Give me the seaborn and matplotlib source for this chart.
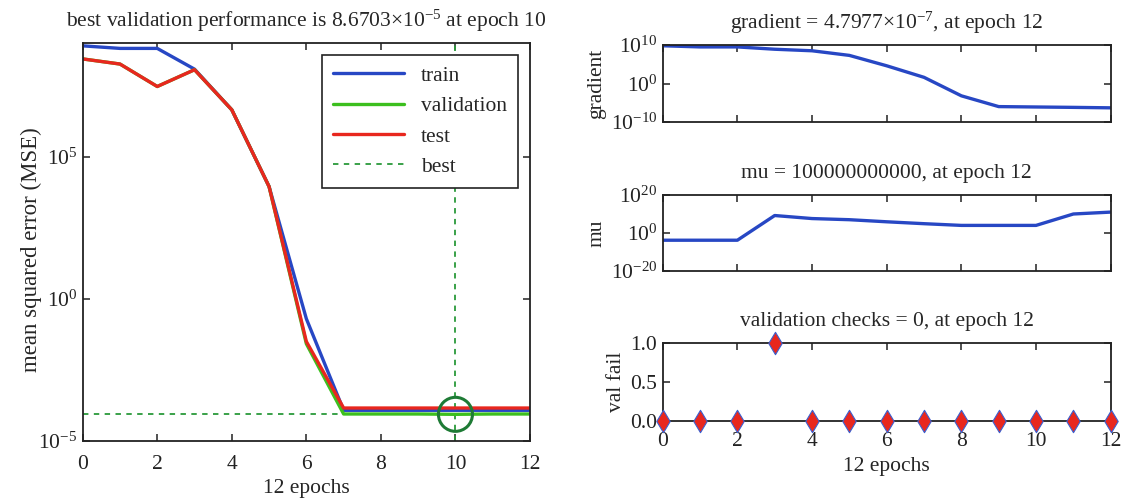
import numpy as np
import pandas as pd
import matplotlib
matplotlib.use("Agg")
import matplotlib.pyplot as plt
import seaborn as sns
from matplotlib.lines import Line2D

# ---------------- data ----------------
epochs = list(range(13))
train_log = [8.90, 8.81, 8.81, 8.08, 6.65, 3.95, -0.70, -3.92, -3.92, -3.92, -3.92, -3.92, -3.92]
val_log = [8.44, 8.26, 7.47, 8.06, 6.65, 3.95, -1.58, -4.05, -4.05, -4.05, -4.062, -4.05, -4.05]
test_log = [8.44, 8.26, 7.47, 8.06, 6.65, 3.95, -1.50, -3.84, -3.84, -3.84, -3.84, -3.84, -3.84]
best_epoch = 10
best_perf = 8.6703e-5

grad_log = [9.8, 9.5, 9.5, 8.9, 8.5, 7.3, 4.6, 1.6, -3.2, -6.0, -6.1, -6.2, -6.32]
mu_log = [-3.8, -3.8, -3.8, 9.2, 7.6, 7.0, 5.9, 4.9, 4.0, 4.0, 4.0, 10.0, 11.0]
val_fail = [0, 0, 0, 1, 0, 0, 0, 0, 0, 0, 0, 0, 0]

title_perf = r"best validation performance is 8.6703$\times$10$^{-5}$ at epoch 10"
title_grad = r"gradient = 4.7977$\times$10$^{-7}$, at epoch 12"
title_mu = "mu = 100000000000, at epoch 12"
title_val = "validation checks = 0, at epoch 12"

# ---------------- style ----------------
sns.set_theme(style="ticks")
plt.rcParams["font.family"] = ["Liberation Serif", "DejaVu Serif"]
plt.rcParams["mathtext.fontset"] = "custom"
plt.rcParams["mathtext.rm"] = "Liberation Serif"
plt.rcParams["mathtext.it"] = "Liberation Serif:italic"
plt.rcParams["axes.unicode_minus"] = True

FS = 15.5
BLUE = "#2747c4"
RED = "#e8271e"
GREEN = "#3cbf1e"
DGREEN = "#2a9a3a"
CGREEN = "#1e7b35"

fig = plt.figure(figsize=(11.27, 5.03), dpi=100)
W, H = 1127, 503


def axes_px(x0, y0, x1, y1):
    return fig.add_axes([x0 / W, 1 - y1 / H, (x1 - x0) / W, (y1 - y0) / H])


def style_axes(ax, labels_x=True, xpad=5):
    for s in ax.spines.values():
        s.set_color("#222222")
        s.set_linewidth(1.3)
    ax.tick_params(direction="in", top=True, right=True, length=5, width=1.1,
                   labelsize=FS, colors="#222222", pad=4)
    ax.tick_params(axis="x", pad=xpad)
    ax.tick_params(which="minor", length=0)
    ax.set_xlim(0, 12)
    ax.set_xticks(range(0, 13, 2))
    if not labels_x:
        ax.set_xticklabels([])


# ---------------- performance panel ----------------
ax = axes_px(82.7, 43, 530, 441)
df = pd.DataFrame({
    "epoch": epochs * 3,
    "mse": [10 ** v for v in train_log] + [10 ** v for v in val_log] + [10 ** v for v in test_log],
    "set": ["train"] * 13 + ["validation"] * 13 + ["test"] * 13,
})
sns.lineplot(data=df, x="epoch", y="mse", hue="set",
             palette={"train": BLUE, "validation": GREEN, "test": RED},
             linewidth=2.4, ax=ax, legend=False)
ax.set_yscale("log")
ax.set_ylim(1e-5, 1e9)
ax.axhline(best_perf, color=DGREEN, ls=(0, (3, 3)), lw=1.3, zorder=1)
ax.axvline(best_epoch, color=DGREEN, ls=(0, (3, 3)), lw=1.3, zorder=1)
sns.scatterplot(x=[best_epoch], y=[best_perf], marker="o", s=600,
                facecolor="none", edgecolor=CGREEN, linewidth=2.2, ax=ax, zorder=5)
style_axes(ax, xpad=10)
ax.set_yticks([1e-5, 1e0, 1e5])
ax.set_yticklabels([r"10$^{-5}$", r"10$^{0}$", r"10$^{5}$"])
ax.set_xlabel("12 epochs", fontsize=FS, labelpad=4)
ax.set_ylabel("mean squared error (MSE)", fontsize=16.5)
ax.yaxis.set_label_coords(-0.09, 0.48)
ax.set_title(title_perf, fontsize=FS, pad=12)

handles = [Line2D([], [], color=BLUE, lw=2.4),
           Line2D([], [], color=GREEN, lw=2.4),
           Line2D([], [], color=RED, lw=2.4),
           Line2D([], [], color=DGREEN, lw=1.3, ls=(0, (3, 3)))]
leg = ax.legend(handles, ["train", "validation", "test", "best"], loc="upper right",
                bbox_to_anchor=(0.973, 0.97), borderaxespad=0, fontsize=FS, frameon=True,
                fancybox=False, handlelength=3.3, labelspacing=0.48, borderpad=0.5,
                handletextpad=0.8, framealpha=1)
leg.get_frame().set_edgecolor("#222222")
leg.get_frame().set_linewidth(1.2)
leg.set_zorder(10)

# ---------------- gradient panel ----------------
ax1 = axes_px(662.7, 45, 1110.7, 122)
sns.lineplot(x=epochs, y=[10 ** v for v in grad_log], color=BLUE, linewidth=2.4, ax=ax1)
ax1.set_yscale("log")
ax1.set_ylim(1e-10, 1e10)
style_axes(ax1, labels_x=False)
ax1.set_yticks([1e-10, 1e0, 1e10])
ax1.set_yticklabels([r"10$^{-10}$", r"10$^{0}$", r"10$^{10}$"])
ax1.set_ylabel("gradient", fontsize=FS, labelpad=3)
ax1.set_title(title_grad, fontsize=FS, pad=12)

# ---------------- mu panel ----------------
ax2 = axes_px(662.7, 195, 1110.7, 271)
sns.lineplot(x=epochs, y=[10 ** v for v in mu_log], color=BLUE, linewidth=2.4, ax=ax2)
ax2.set_yscale("log")
ax2.set_ylim(1e-20, 1e20)
style_axes(ax2, labels_x=False)
ax2.set_yticks([1e-20, 1e0, 1e20])
ax2.set_yticklabels([r"10$^{-20}$", r"10$^{0}$", r"10$^{20}$"])
ax2.set_ylabel("mu", fontsize=FS, labelpad=3)
ax2.set_title(title_mu, fontsize=FS, pad=12)

# ---------------- val fail panel ----------------
ax3 = axes_px(662.7, 343, 1110.7, 421)
sns.scatterplot(x=epochs, y=val_fail, marker="d", s=130, color=RED,
                edgecolor="#3a5fd0", linewidth=0.8, ax=ax3, zorder=5, clip_on=False)
ax3.set_ylim(0, 1)
style_axes(ax3, xpad=8)
ax3.set_yticks([0, 0.5, 1.0])
ax3.set_yticklabels(["0.0", "0.5", "1.0"])
ax3.set_xlabel("12 epochs", fontsize=FS, labelpad=4)
ax3.set_ylabel("val fail", fontsize=FS, labelpad=3)
ax3.set_title(title_val, fontsize=FS, pad=12)

fig.savefig("out.png", dpi=100)
